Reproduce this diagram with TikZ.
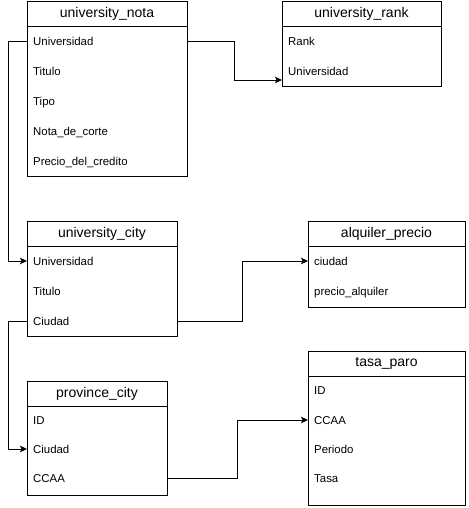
\documentclass[tikz,border=0pt]{standalone}
\usepackage{fontspec}
\setmainfont{Liberation Sans}
\usetikzlibrary{arrows.meta}
\tikzset{
  x=1pt, y=-1pt,
  tbl/.style={draw, line width=0.9pt, inner sep=0pt, outer sep=0pt, anchor=north west, fill=white},
  ttl/.style={font=\fontsize{14}{16}\selectfont, inner sep=0pt},
  fld/.style={font=\fontsize{11.4}{13}\selectfont, inner sep=0pt, anchor=west, text height=8.2pt, text depth=0pt},
  hdr/.style={line width=0.9pt},
  conn/.style={line width=0.9pt, -{Stealth[length=7pt,width=6.5pt,inset=1.5pt]}}
}
\begin{document}
\begin{tikzpicture}
\useasboundingbox (0,0) rectangle (468,508);
% university_nota
\node[tbl, minimum width=160pt, minimum height=175pt] (nota) at (27,1) {};
\draw[hdr] (27,26) -- (187,26);
\node[ttl] (nota-t) at (107,13.5) {university\_nota};
\node[fld] (nu1) at (33,41) {Universidad};
\node[fld] (nu2) at (33,71) {Titulo};
\node[fld] (nu3) at (33,101) {Tipo};
\node[fld] (nu4) at (33,131) {Nota\_de\_corte};
\node[fld] (nu5) at (33,161) {Precio\_del\_credito};
% university_rank
\node[tbl, minimum width=159pt, minimum height=85pt] (rank) at (282,1) {};
\draw[hdr] (282,26) -- (441,26);
\node[ttl] (rank-t) at (361.5,13.5) {university\_rank};
\node[fld] (rr1) at (288,41) {Rank};
\node[fld] (rr2) at (288,71) {Universidad};
% university_city
\node[tbl, minimum width=150pt, minimum height=115pt] (city) at (27,221) {};
\draw[hdr] (27,246) -- (177,246);
\node[ttl] (city-t) at (102,233.5) {university\_city};
\node[fld] (cu1) at (33,261) {Universidad};
\node[fld] (cu2) at (33,291) {Titulo};
\node[fld] (cu3) at (33,321) {Ciudad};
% alquiler_precio
\node[tbl, minimum width=157pt, minimum height=86pt] (alq) at (308,221) {};
\draw[hdr] (308,246) -- (465,246);
\node[ttl] (alq-t) at (386.5,233.5) {alquiler\_precio};
\node[fld] (al1) at (314,261) {ciudad};
\node[fld] (al2) at (314,291) {precio\_alquiler};
% province_city
\node[tbl, minimum width=140pt, minimum height=114pt] (prov) at (27,381) {};
\draw[hdr] (27,406) -- (167,406);
\node[ttl] (prov-t) at (97,393.5) {province\_city};
\node[fld] (pv1) at (33,420) {ID};
\node[fld] (pv2) at (33,449) {Ciudad};
\node[fld] (pv3) at (33,478) {CCAA};
% tasa_paro
\node[tbl, minimum width=157pt, minimum height=154pt] (tasa) at (308,351) {};
\draw[hdr] (308,376) -- (465,376);
\node[ttl] (tasa-t) at (386.5,363.5) {tasa\_paro};
\node[fld] (tp1) at (314,390) {ID};
\node[fld] (tp2) at (314,420) {CCAA};
\node[fld] (tp3) at (314,449) {Periodo};
\node[fld] (tp4) at (314,478) {Tasa};
% connectors
\coordinate (rk) at (282,80);
\draw[conn] (nota.west |- nu1) -- ++(-19,0) |- (city.west |- cu1);
\draw[conn] (nota.east |- nu1) -- ++(47,0) |- (rk);
\draw[conn] (city.west |- cu3) -- ++(-19,0) |- (prov.west |- pv2);
\draw[conn] (city.east |- cu3) -- ++(65,0) |- (alq.west |- al1);
\draw[conn] (prov.east |- pv3) -- ++(70,0) |- (tasa.west |- tp2);
\end{tikzpicture}
\end{document}
